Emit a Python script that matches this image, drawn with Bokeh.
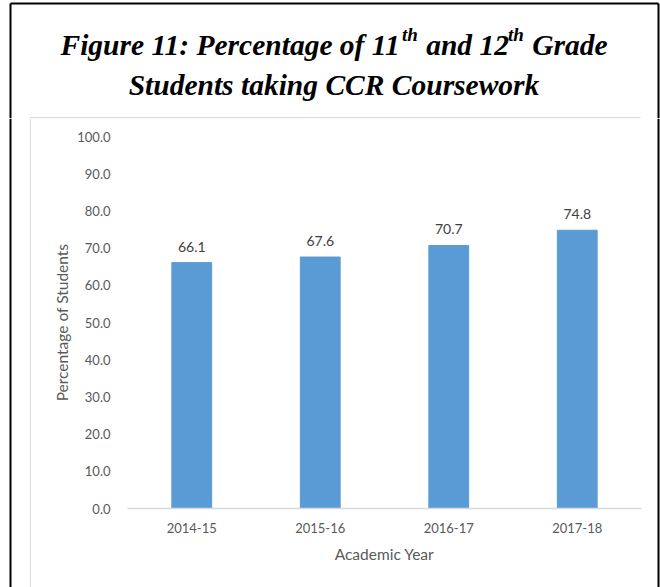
from bokeh.plotting import figure
from bokeh.layouts import column, row
from bokeh.core.properties import value
from bokeh.models import (ColumnDataSource, LabelSet, FixedTicker,
                          NumeralTickFormatter, FactorRange, Range1d)
from bokeh.embed import file_html
from bokeh.resources import INLINE

# ---- data ----
years = ["2014-15", "2015-16", "2016-17", "2017-18"]
percent = [66.1, 67.6, 70.7, 74.8]
value_labels = ["66.1", "67.6", "70.7", "74.8"]
y_ticks = [0, 10, 20, 30, 40, 50, 60, 70, 80, 90, 100]
title_line1 = ["Figure 11: Percentage of 11", "th", " and 12", "th", " Grade"]
title_sup = [False, True, False, True, False]
title_line2 = "Students taking CCR Coursework"
x_title = "Academic Year"
y_title = "Percentage of Students"

# ---- layout constants (page pixels) ----
W, H = 660, 587
TOP_H = 118          # title strip height
L_W, R_W = 40, 10    # side strips
C_W = W - L_W - R_W
C_H = H - TOP_H
CHART_FONT = "Lato"
TITLE_FONT = "Liberation Serif"
S_MAIN, S_SUP = 29.5, 19
BLACK_LW = 2
GRAY = "#d9d9d9"


def blank(width, height, x0, x1, y0, y1):
    f = figure(width=width, height=height, output_backend="svg",
               toolbar_location=None, x_axis_location=None, y_axis_location=None,
               x_range=Range1d(x0, x1), y_range=Range1d(y1, y0), min_border=0,
               background_fill_color="white", border_fill_color="white",
               title=None, frame_align=False)
    f.outline_line_color = None
    f.xgrid.visible = False
    f.ygrid.visible = False
    return f

# ---- title strip ----
T = blank(W, TOP_H, 0, W, 0, TOP_H)

TW = {"F": 667, "i": 278, "g": 500, "u": 556, "r": 389, "e": 444, " ": 250,
      "1": 500, "2": 500, ":": 333, "P": 611, "c": 444, "n": 556, "t": 278,
      "a": 500, "o": 500, "f": 333, "h": 556, "d": 500, "G": 722}

def tw(s, size):
    return sum(TW.get(ch, 500) for ch in s) / 1000.0 * size

widths = [tw(s, S_SUP if sup else S_MAIN) for s, sup in zip(title_line1, title_sup)]
cx = 333.5
BASE1, BASE2 = 44, 84
xpos = cx - sum(widths) / 2
for s, sup, w in zip(title_line1, title_sup, widths):
    size = S_SUP if sup else S_MAIN
    body = s.lstrip(" ")
    lead = tw(s[:len(s) - len(body)], size)   # SVG collapses leading spaces
    T.text(x=[xpos + lead - (1 if sup else 0)], y=[BASE1 - 10 if sup else BASE1],
           text=[body], text_font=value(TITLE_FONT), text_font_style="bold italic",
           text_font_size=f"{size}px", text_color="black",
           text_align="left", text_baseline="alphabetic")
    xpos += w
T.text(x=[cx], y=[BASE2], text=[title_line2],
       text_font=value(TITLE_FONT), text_font_style="bold italic",
       text_font_size=f"{S_MAIN}px", text_color="black",
       text_align="center", text_baseline="alphabetic")

# outer black frame (top part) and inner chart-area frame (top edge)
T.segment(x0=[10, 658, 10], y0=[3, 3, 3], x1=[10, 658, 658], y1=[TOP_H, TOP_H, 3],
          line_color="black", line_width=BLACK_LW)
T.segment(x0=[30, 30], y0=[117, 117], x1=[640, 30], y1=[117, TOP_H],
          line_color=GRAY, line_width=1)

# ---- left and right strips ----
L = blank(L_W, C_H, 0, L_W, TOP_H, H)
L.segment(x0=[10], y0=[TOP_H], x1=[10], y1=[H], line_color="black", line_width=BLACK_LW)
L.segment(x0=[30], y0=[TOP_H], x1=[30], y1=[H], line_color=GRAY, line_width=1)

R = blank(R_W, C_H, W - R_W, W, TOP_H, H)
R.segment(x0=[658], y0=[TOP_H], x1=[658], y1=[H], line_color="black", line_width=BLACK_LW)

# ---- chart ----
src = ColumnDataSource(dict(years=years, percent=percent, lab=value_labels))

p = figure(x_range=FactorRange(*years), y_range=Range1d(0, 100),
           width=C_W, height=C_H, output_backend="svg", toolbar_location=None,
           min_border_left=127 - L_W, min_border_right=W - R_W - 641,
           min_border_top=136 - TOP_H, min_border_bottom=H - 508,
           background_fill_color="white", border_fill_color="white",
           title=None, frame_align=False)
p.outline_line_color = None
p.xgrid.visible = False
p.ygrid.visible = False

p.vbar(x="years", top="percent", width=0.31, source=src,
       fill_color="#5B9BD5", line_color="#5B9BD5")

p.add_layout(LabelSet(x="years", y="percent", text="lab", source=src,
                      text_align="center", text_baseline="bottom", y_offset=11,
                      text_font=value(CHART_FONT), text_font_size="14px",
                      text_color="#404040"))

p.yaxis.ticker = FixedTicker(ticks=y_ticks)
p.yaxis.formatter = NumeralTickFormatter(format="0.0")
p.yaxis.axis_line_color = None
p.yaxis.major_tick_line_color = None
p.yaxis.minor_tick_line_color = None
p.yaxis.major_label_standoff = 11
p.yaxis.major_label_text_font = CHART_FONT
p.yaxis.major_label_text_font_size = "13px"
p.yaxis.major_label_text_color = "#595959"
p.yaxis.axis_label = y_title
p.yaxis.axis_label_standoff = 3
p.yaxis.axis_label_text_font = CHART_FONT
p.yaxis.axis_label_text_font_size = "15.5px"
p.yaxis.axis_label_text_font_style = "normal"
p.yaxis.axis_label_text_color = "#595959"

p.xaxis.axis_line_color = GRAY
p.xaxis.axis_line_width = 1.5
p.xaxis.major_tick_line_color = None
p.xaxis.minor_tick_line_color = None
p.xaxis.major_label_standoff = 8
p.xaxis.major_label_text_font = CHART_FONT
p.xaxis.major_label_text_font_size = "13px"
p.xaxis.major_label_text_color = "#595959"
p.xaxis.axis_label = x_title
p.xaxis.axis_label_standoff = 9
p.xaxis.axis_label_text_font = CHART_FONT
p.xaxis.axis_label_text_font_size = "15.5px"
p.xaxis.axis_label_text_font_style = "normal"
p.xaxis.axis_label_text_color = "#595959"

page = column(T, row(L, p, R, spacing=0), spacing=0)

open("out.html", "w").write(file_html(page, INLINE))
